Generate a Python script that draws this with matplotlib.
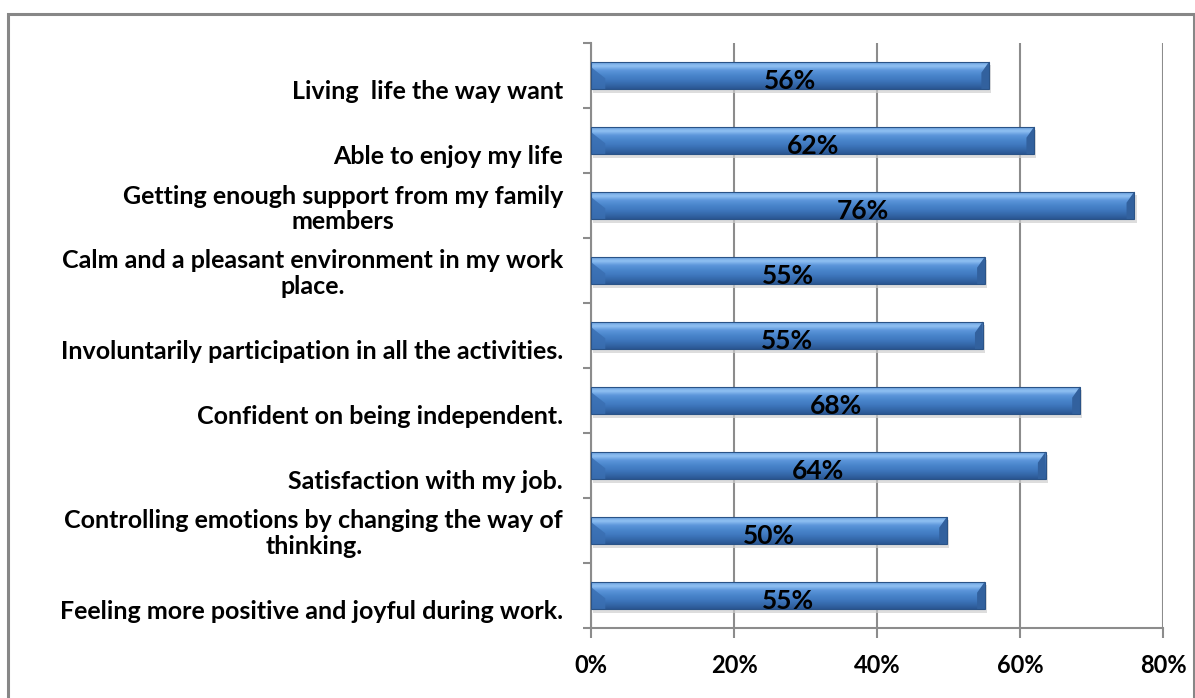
import matplotlib
matplotlib.use("Agg")
import matplotlib.pyplot as plt
import numpy as np
from matplotlib.colors import LinearSegmentedColormap
from matplotlib.patches import Rectangle, Polygon

# --- data ---
categories = [
    "Living  life the way want",
    "Able to enjoy my life",
    "Getting enough support from my family\nmembers",
    "Calm and a pleasant environment in my work\nplace.",
    "Involuntarily participation in all the activities.",
    "Confident on being independent.",
    "Satisfaction with my job.",
    "Controlling emotions by changing the way of\nthinking.",
    "Feeling more positive and joyful during work.",
]
values = [0.557, 0.62, 0.76, 0.551, 0.548, 0.684, 0.636, 0.498, 0.551]
value_labels = ["56%", "62%", "76%", "55%", "55%", "68%", "64%", "50%", "55%"]
xticks = [0, 0.2, 0.4, 0.6, 0.8]
xtick_labels = ["0%", "20%", "40%", "60%", "80%"]

plt.rcParams['font.family'] = ['Lato', 'DejaVu Sans']
grey = '#8c8c8c'

fig = plt.figure(figsize=(11.95, 6.98), dpi=100)
# outer frame like the Excel chart area
fig.patches.append(Rectangle((8 / 1195, -0.01), 1186 / 1195, 1 - 14 / 698 + 0.01,
                             transform=fig.transFigure, fill=False,
                             edgecolor='#878787', linewidth=2.2))

ax = fig.add_axes([591 / 1195, 1 - 628 / 698, (1163 - 591) / 1195, (628 - 43) / 698])
ypos = np.arange(len(categories))
h = 0.43

bars = ax.barh(ypos, values, height=h, color='#4a84c6', zorder=3)

# gradient + bevel to fake the 3D look (top row of image = top of bar)
cmap = LinearSegmentedColormap.from_list(
    'bar', ['#5d95d8', '#92c2f3', '#5b95da', '#4a86cc', '#4079c0', '#3569ab', '#2b5692'])
grad = np.linspace(0, 1, 64).reshape(-1, 1)
for b in bars:
    x0, y0 = b.get_x(), b.get_y()
    w, hh = b.get_width(), b.get_height()
    # soft shadow under the bar
    ax.add_patch(Rectangle((x0 + 0.003, y0 + 0.06), w, hh, facecolor='#cfcfcf',
                           edgecolor='none', alpha=0.7, zorder=2))
    im = ax.imshow(grad, extent=(x0, x0 + w, y0 + hh, y0), aspect='auto',
                   cmap=cmap, zorder=3.5, interpolation='bicubic')
    im.set_clip_path(b)
    ax.add_patch(Polygon([(x0, y0 + hh * 0.2), (x0 + 0.02, y0 + hh * 0.6),
                          (x0 + 0.02, y0 + hh), (x0, y0 + hh)],
                         closed=True, facecolor='#3a6fb2', edgecolor='none', alpha=0.85, zorder=4))
    ax.add_patch(Polygon([(x0 + w, y0), (x0 + w - 0.011, y0 + hh * 0.4),
                          (x0 + w - 0.011, y0 + hh), (x0 + w, y0 + hh)],
                         closed=True, facecolor='#32619e', edgecolor='none', zorder=4))
    ax.add_patch(Rectangle((x0, y0), w, hh, fill=False, edgecolor='#2a5387',
                           linewidth=0.8, zorder=4))

for y, v, lab in zip(ypos, values, value_labels):
    ax.text(v / 2, y + 0.09, lab, ha='center', va='center', fontsize=19,
            fontweight='bold', color='black', zorder=5)

ax.set_xlim(0, 0.8)
ax.set_ylim(len(categories) - 0.5, -0.5)
ax.set_xticks(xticks)
ax.set_xticklabels(xtick_labels, fontsize=17, fontweight='bold')
ax.xaxis.grid(True, color=grey, linewidth=1.5, zorder=0)
ax.set_axisbelow(True)

# category labels: single lines sit a bit below the centre like in Excel
ylabels = [c if '\n' in c else '\n' + c for c in categories]
ax.set_yticks(ypos)
ax.set_yticklabels(ylabels, fontsize=18, fontweight='bold', linespacing=1.15,
                   multialignment='center')
ax.set_yticks(np.arange(-0.5, len(categories)), minor=True)
ax.tick_params(axis='y', which='major', length=0, pad=20)
ax.tick_params(axis='y', which='minor', length=6, color=grey, width=1.5)
ax.tick_params(axis='x', length=7, color=grey, width=1.5, pad=12)

for s in ['top', 'right']:
    ax.spines[s].set_visible(False)
for s in ['left', 'bottom']:
    ax.spines[s].set_color(grey)
    ax.spines[s].set_linewidth(1.5)

fig.savefig('out.png', dpi=100)
